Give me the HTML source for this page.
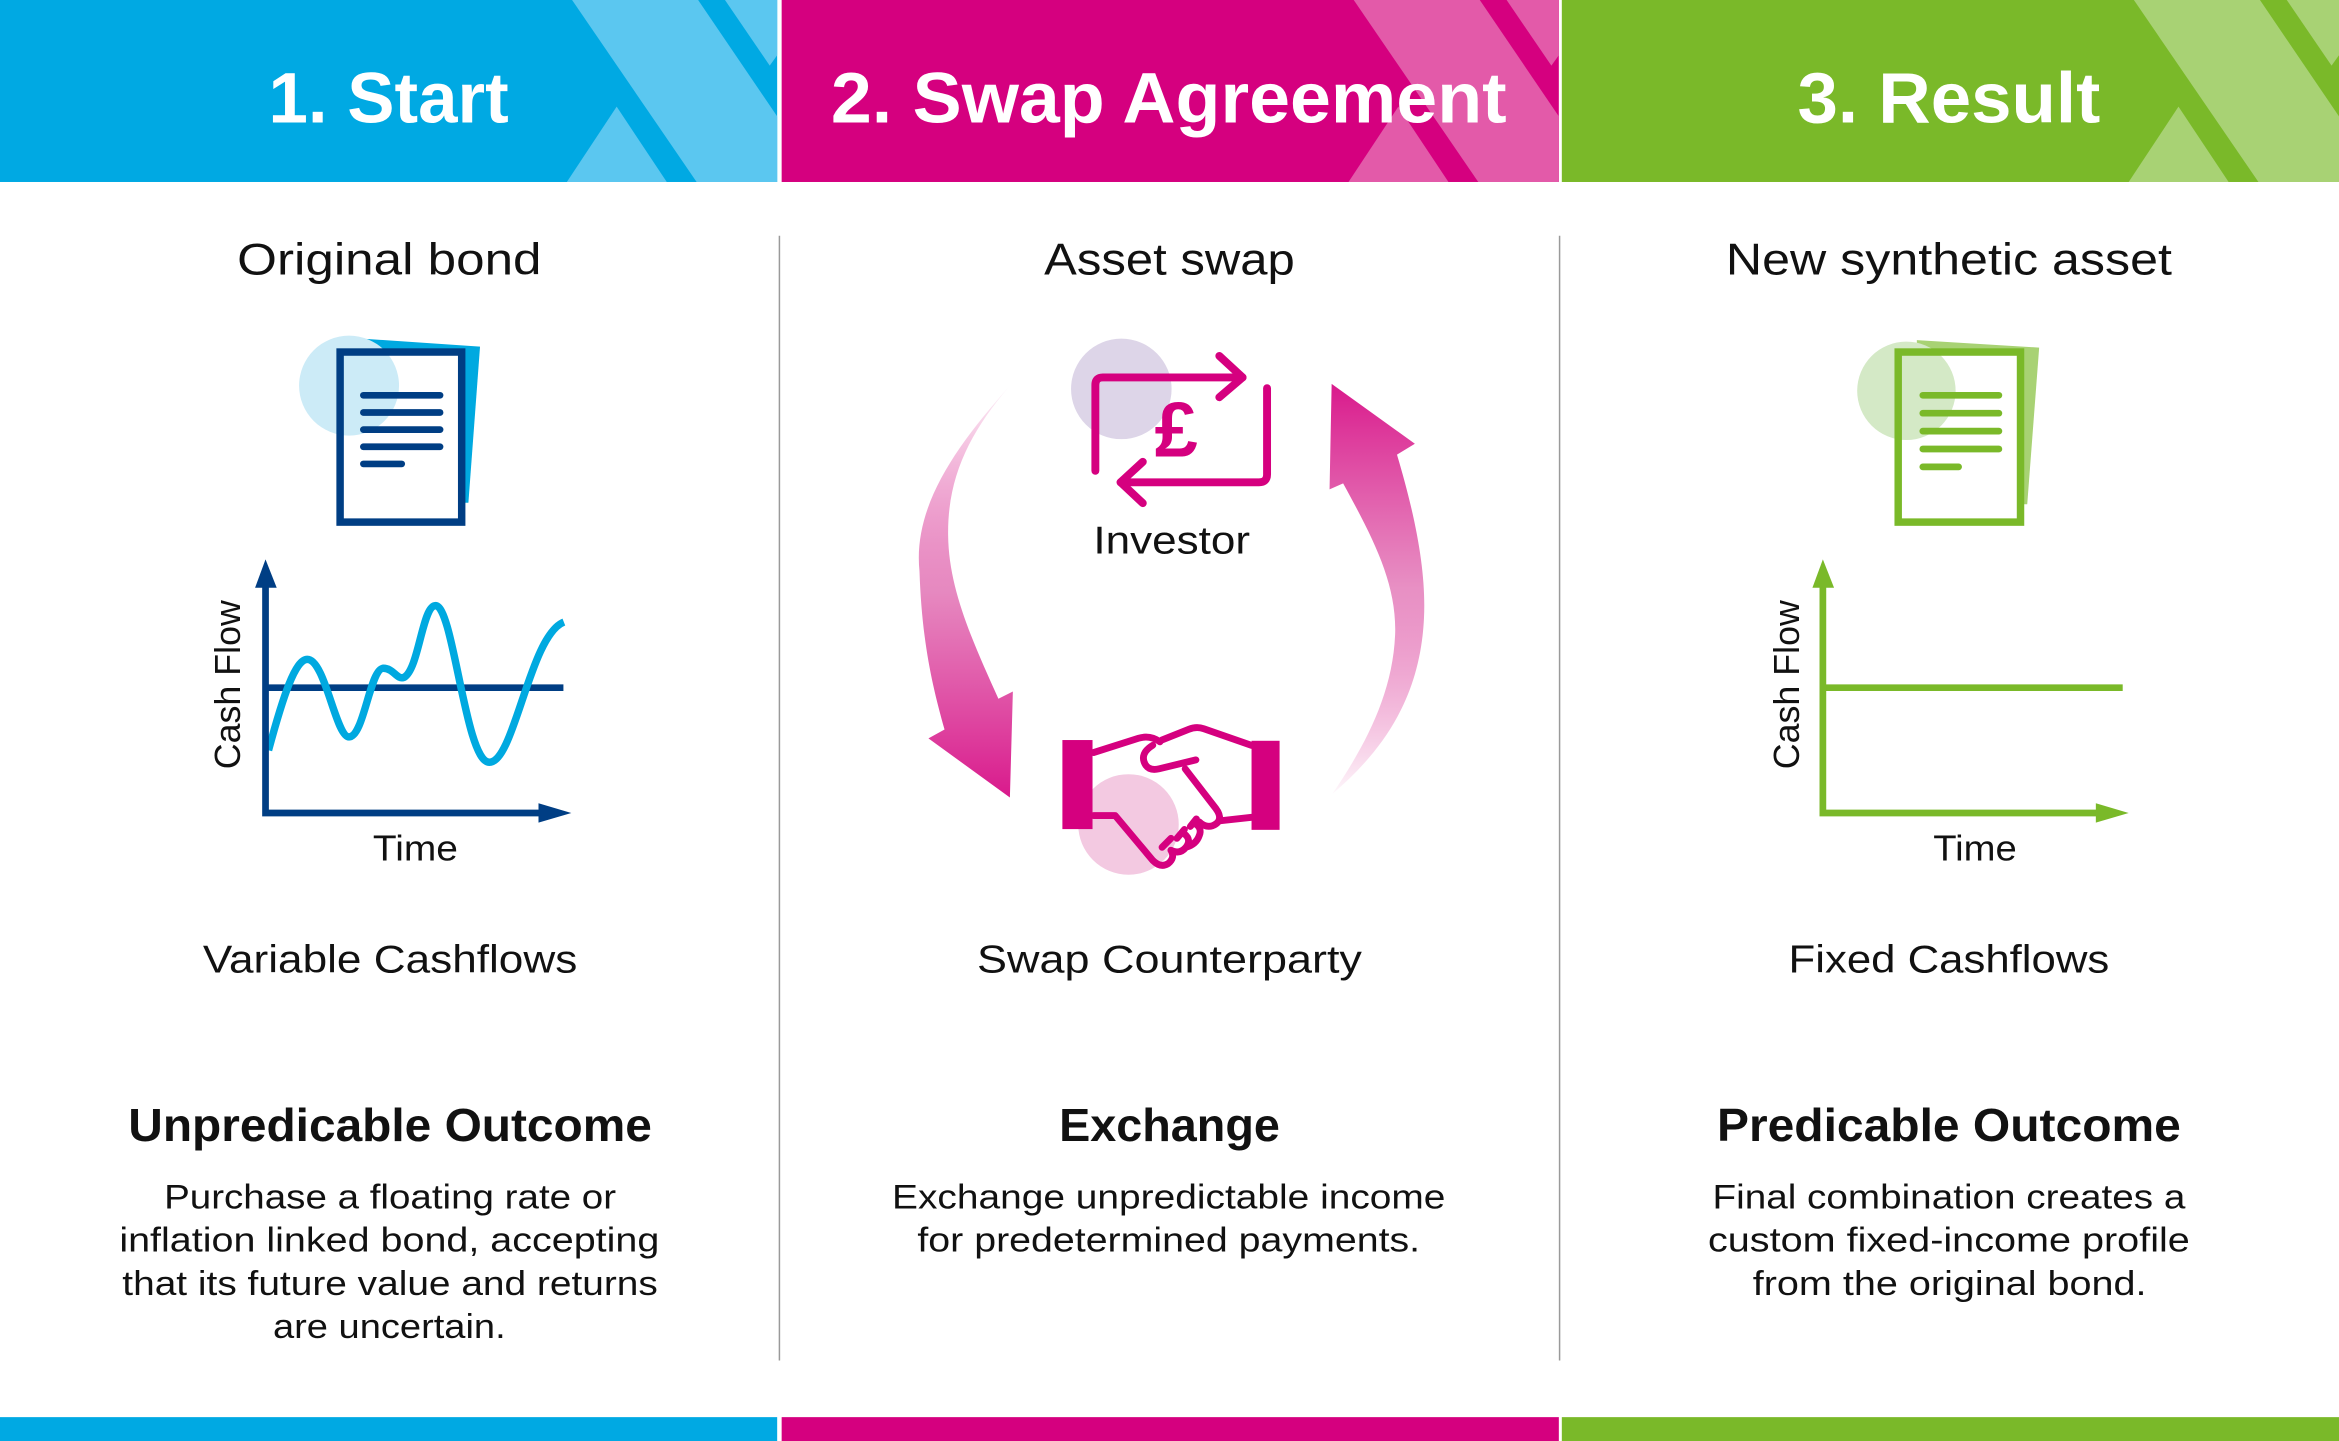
<!DOCTYPE html>
<html><head><meta charset="utf-8">
<style>html,body{margin:0;padding:0;background:#fff}svg{display:block}text{font-family:"Liberation Sans",sans-serif}</style>
</head><body>
<svg xmlns="http://www.w3.org/2000/svg" width="2339" height="1441" viewBox="0 0 1568 966" preserveAspectRatio="none">
<defs>
<linearGradient id="gl" x1="0" y1="0" x2="0" y2="1"><stop offset="0" stop-color="#d5007f" stop-opacity="0.05"/><stop offset="0.5" stop-color="#e06bb0" stop-opacity="0.8"/><stop offset="1" stop-color="#d5007f" stop-opacity="0.9"/></linearGradient>
<linearGradient id="gr" x1="0" y1="0" x2="0" y2="1"><stop offset="0" stop-color="#d5007f" stop-opacity="0.9"/><stop offset="0.5" stop-color="#e06bb0" stop-opacity="0.75"/><stop offset="1" stop-color="#d5007f" stop-opacity="0.03"/></linearGradient>
</defs>
<rect width="1568" height="966" fill="#fff"/>
<!-- headers -->
<g>
<rect x="0" y="0" width="521" height="122" fill="#00a9e3"/>
<g fill="#5bc7f0"><polygon points="383.5,0 468,0 521,78 521,122 467,122"/><polygon points="486,0 521,0 521,37 516,44"/><polygon points="380,122 413.4,71.5 447,122"/></g>
</g>
<g transform="translate(524,0)">
<rect x="0" y="0" width="521" height="122" fill="#d5007f"/>
<g fill="#e35aa9"><polygon points="383.5,0 468,0 521,78 521,122 467,122"/><polygon points="486,0 521,0 521,37 516,44"/><polygon points="380,122 413.4,71.5 447,122"/></g>
</g>
<g transform="translate(1047,0)">
<rect x="0" y="0" width="521" height="122" fill="#7ab929"/>
<g fill="#a8d274"><polygon points="383.5,0 468,0 521,78 521,122 467,122"/><polygon points="486,0 521,0 521,37 516,44"/><polygon points="380,122 413.4,71.5 447,122"/></g>
</g>
<g fill="#fff" font-weight="bold" font-size="48">
<text x="180" y="82" textLength="161" lengthAdjust="spacingAndGlyphs">1. Start</text>
<text x="557" y="82" textLength="453" lengthAdjust="spacingAndGlyphs">2. Swap Agreement</text>
<text x="1205" y="82" textLength="203" lengthAdjust="spacingAndGlyphs">3. Result</text>
</g>
<!-- dividers & bottom bars -->
<line x1="522.5" y1="158" x2="522.5" y2="912" stroke="#9a9a9a" stroke-width="1"/>
<line x1="1045.5" y1="158" x2="1045.5" y2="912" stroke="#9a9a9a" stroke-width="1"/>
<rect x="0" y="950" width="521" height="16" fill="#00a9e3"/>
<rect x="524" y="950" width="521" height="16" fill="#d5007f"/>
<rect x="1047" y="950" width="521" height="16" fill="#7ab929"/>
<!-- titles -->
<g fill="#111" font-size="30">
<text x="159" y="184" textLength="204" lengthAdjust="spacingAndGlyphs">Original bond</text>
<text x="700" y="184" textLength="168" lengthAdjust="spacingAndGlyphs">Asset swap</text>
<text x="1157" y="184" textLength="299" lengthAdjust="spacingAndGlyphs">New synthetic asset</text>
</g>
<g fill="#111" font-size="26">
<text x="136" y="652" textLength="251" lengthAdjust="spacingAndGlyphs">Variable Cashflows</text>
<text x="655" y="652" textLength="258" lengthAdjust="spacingAndGlyphs">Swap Counterparty</text>
<text x="1199" y="652" textLength="215" lengthAdjust="spacingAndGlyphs">Fixed Cashflows</text>
<text x="733" y="371" textLength="105" lengthAdjust="spacingAndGlyphs">Investor</text>
</g>
<g fill="#111" font-size="31" font-weight="bold">
<text x="86" y="765" textLength="351" lengthAdjust="spacingAndGlyphs">Unpredicable Outcome</text>
<text x="710" y="765" textLength="148" lengthAdjust="spacingAndGlyphs">Exchange</text>
<text x="1151" y="765" textLength="311" lengthAdjust="spacingAndGlyphs">Predicable Outcome</text>
</g>
<g fill="#111" font-size="23">
<text x="110" y="810" textLength="303" lengthAdjust="spacingAndGlyphs">Purchase a floating rate or</text>
<text x="80" y="839" textLength="362" lengthAdjust="spacingAndGlyphs">inflation linked bond, accepting</text>
<text x="82" y="868" textLength="359" lengthAdjust="spacingAndGlyphs">that its future value and returns</text>
<text x="183" y="897" textLength="156" lengthAdjust="spacingAndGlyphs">are uncertain.</text>
<text x="598" y="810" textLength="371" lengthAdjust="spacingAndGlyphs">Exchange unpredictable income</text>
<text x="615" y="839" textLength="337" lengthAdjust="spacingAndGlyphs">for predetermined payments.</text>
<text x="1148" y="810" textLength="317" lengthAdjust="spacingAndGlyphs">Final combination creates a</text>
<text x="1145" y="839" textLength="323" lengthAdjust="spacingAndGlyphs">custom fixed-income profile</text>
<text x="1175" y="868" textLength="264" lengthAdjust="spacingAndGlyphs">from the original bond.</text>
</g>
<!-- doc 1 -->
<polygon points="240,226.8 321.8,232.4 314,337 240,337" fill="#00a9e0"/>
<rect x="228" y="236" width="81.5" height="114" fill="#fff"/>
<circle cx="234" cy="258.5" r="33.5" fill="#ccebf7"/>
<rect x="228" y="236" width="81.5" height="114" fill="none" stroke="#003e84" stroke-width="5"/>
<g stroke="#003e84" stroke-width="4.5" stroke-linecap="round"><line x1="243.6" y1="265" x2="295" y2="265"/><line x1="243.6" y1="276.5" x2="295" y2="276.5"/><line x1="243.6" y1="288" x2="295" y2="288"/><line x1="243.6" y1="299.5" x2="295" y2="299.5"/><line x1="243.6" y1="311" x2="269.3" y2="311"/></g>
<!-- chart 1 -->
<g>
<line x1="178" y1="461" x2="377.7" y2="461" stroke="#003e84" stroke-width="4.5"/>
<path d="M180,503 C190,466 198,442 206,442 C218,442 225,494 234,494 C244,494 248,448 257,448 C264,448 266,456 271,454 C281,448 283,406 292,406 C304,406 312,511 328,511 C345,511 355,426 378,417" fill="none" stroke="#00a9e0" stroke-width="5"/>
<polyline points="178,390 178,545 372,545" fill="none" stroke="#003e84" stroke-width="4.5"/>
<polygon points="178,375 171,394 185.5,394" fill="#003e84"/>
<polygon points="383,545 361,538.5 361,551.5" fill="#003e84"/>
<text transform="translate(161,459) rotate(-90)" text-anchor="middle" font-size="24" fill="#111">Cash Flow</text>
<text x="250" y="577" font-size="24" fill="#111" textLength="57" lengthAdjust="spacingAndGlyphs">Time</text>
</g>
<!-- doc 3 -->
<polygon points="1285,228 1367,233 1359,338 1285,338" fill="#a8d274"/>
<rect x="1272.5" y="236" width="82" height="114" fill="#fff"/>
<circle cx="1278" cy="262" r="33" fill="#d4e9c6"/>
<rect x="1272.5" y="236" width="82" height="114" fill="none" stroke="#7ab929" stroke-width="5"/>
<g stroke="#7ab929" stroke-width="4.5" stroke-linecap="round"><line x1="1289" y1="265" x2="1340" y2="265"/><line x1="1289" y1="277" x2="1340" y2="277"/><line x1="1289" y1="289" x2="1340" y2="289"/><line x1="1289" y1="301" x2="1340" y2="301"/><line x1="1289" y1="313" x2="1313" y2="313"/></g>
<!-- chart 3 -->
<g>
<line x1="1222" y1="461" x2="1423" y2="461" stroke="#7ab929" stroke-width="4.5"/>
<polyline points="1222,392 1222,545 1412,545" fill="none" stroke="#7ab929" stroke-width="4.5"/>
<polygon points="1222,375 1215,394 1229.5,394" fill="#7ab929"/>
<polygon points="1427,545 1405,538.5 1405,551.5" fill="#7ab929"/>
<text transform="translate(1206,459) rotate(-90)" text-anchor="middle" font-size="24" fill="#111">Cash Flow</text>
<text x="1296" y="577" font-size="24" fill="#111" textLength="56" lengthAdjust="spacingAndGlyphs">Time</text>
</g>
<!-- center arrows -->
<path d="M676.6,259 C640,300 612,340 616.4,383 C618,430 625,460 633.2,489 L622.4,495 L677,534.6 L679,463.6 L669.3,468.4 C652,430 636,395 635.6,359 C635,320 650,290 676.6,259Z" fill="url(#gl)"/>
<path d="M892.7,257.3 L948.5,297.5 L936.5,304.8 C950,350 956,385 954.6,414.3 C952,470 925,505 893.2,532.2 C915,500 934,465 935.3,424 C936,390 920,360 900.4,324 L891.3,328.1Z" fill="url(#gr)"/>
<!-- investor icon -->
<circle cx="751.7" cy="260.7" r="33.7" fill="#ddd5e8"/>
<g fill="none" stroke="#d5007f" stroke-width="5.3" stroke-linecap="round" stroke-linejoin="round">
<path d="M734.3,315.6 L734.3,258 Q734.3,253 739.3,253 L833,253"/>
<polyline points="817.4,238.6 833,253 817.4,266.3"/>
<path d="M849.4,260.2 L849.4,318 Q849.4,323.3 844,323.3 L751.2,323.3"/>
<polyline points="766.1,309.6 751.2,323.3 766.1,337.3"/>
</g>
<text x="788.5" y="306" text-anchor="middle" font-size="52" font-weight="bold" fill="#d5007f">£</text>
<!-- handshake -->
<circle cx="756.5" cy="552.7" r="33.7" fill="#f3c9e1"/>
<rect x="712.2" y="496.1" width="20.2" height="59.7" fill="#d5007f"/>
<rect x="839" y="496.6" width="18.8" height="59.7" fill="#d5007f"/>
<g fill="none" stroke="#d5007f" stroke-width="4.6" stroke-linejoin="round" stroke-linecap="round">
<path d="M733.1,504.5 L763.2,494.9 Q771,492.5 777.6,497.3"/>
<path d="M778.8,496.1 L796.9,488.9 Q802,486.8 807,488.5 L839,499.7"/>
<path d="M772.8,499.6 Q764,505 767.5,512 Q770,517 777,515.4 L801.7,509.4"/>
<path d="M794.5,515.4 L815,541.9 Q821,550 813,553.5 Q808,555 804,551"/>
<path d="M817.4,550.3 L839,547.9"/>
<path d="M733.1,546.7 L747.6,546.7 L772.8,576.8 Q778,582 783,579 Q788,575 785,570"/>
<path d="M779,568 L785,562 M785,570 Q791,573 795,568 Q799,563 794,559 M789,562 L794,556 M795,568 Q802,566 804,560 Q806,555 801,552 M798,554 L802,549"/>
</g>
</svg>
</body></html>
